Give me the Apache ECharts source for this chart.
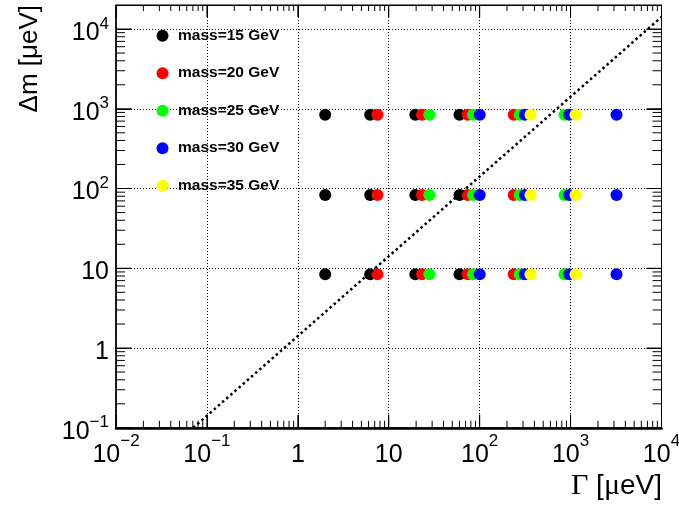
<!DOCTYPE html>
<html>
<head>
<meta charset="utf-8">
<script src="https://cdn.jsdelivr.net/npm/echarts@6/dist/echarts.min.js"></script>
<style>html,body{margin:0;padding:0;background:#fff;}#c{width:679px;height:505px;}</style>
</head>
<body>
<div id="c"></div>
<script>
// ---- data ----
const seriesNames = ['mass=15 GeV', 'mass=20 GeV', 'mass=25 GeV', 'mass=30 GeV', 'mass=35 GeV'];
const seriesColors = ['#000000', '#ff0000', '#00ff00', '#0000ff', '#ffff00'];
const deltaM = [8.4, 83, 840];            // Δm rows [μeV]
const gamma15 = [2.0, 6.25, 19.6, 60];    // Γ [μeV]
const gamma20 = [7.5, 23.2, 73.8, 237];
const gamma25 = [27.9, 84.6, 276, 857];
const gamma30 = [100, 313, 966, 3200];
const gamma35 = [362, 1132];
const gammaSets = [gamma15, gamma20, gamma25, gamma30, gamma35];
const diagGamma = [0.0707, 10000];        // dotted line Γ
const diagDeltaM = [0.1, 14142];          // dotted line Δm
const xRange = [0.01, 10000];
const yRange = [0.1, 20000];
const xMajor = [0.01, 0.1, 1, 10, 100, 1000, 10000];
const yMajor = [0.1, 1, 10, 100, 1000, 10000];

function pts(gs) {
  const out = [];
  deltaM.forEach(function (dm) { gs.forEach(function (g) { out.push([g, dm]); }); });
  return out;
}
function minorTicks(lo, hi) {
  const out = [];
  for (let k = Math.floor(Math.log10(lo)); k <= Math.ceil(Math.log10(hi)); k++) {
    for (let m = 2; m <= 9; m++) {
      const v = m * Math.pow(10, k);
      if (v > lo * 1.0001 && v < hi * 0.9999) out.push(v);
    }
  }
  return out;
}
const xMinor = minorTicks(xRange[0], xRange[1]);
const yMinor = minorTicks(yRange[0], yRange[1]);

function powLabel(v) {
  const l = Math.log10(v);
  const e = Math.round(l);
  if (Math.abs(l - e) > 1e-6) return '';
  if (e === 0) return '{b|1}';
  if (e === 1) return '{b|10}';
  return '{b|10}{s|' + (e < 0 ? '\u2212' : '') + Math.abs(e) + '}';
}
const FONT = 'Liberation Sans';
const rich = {
  b: { fontSize: 25, lineHeight: 43, fontFamily: FONT, color: '#000' },
  s: { fontSize: 17, lineHeight: 17, verticalAlign: 'top', fontFamily: FONT, color: '#000' }
};
const richY = {
  b: { fontSize: 25, lineHeight: 43, fontFamily: FONT, color: '#000', padding: [8, 0, 0, 0] },
  s: { fontSize: 17, lineHeight: 17, verticalAlign: 'top', fontFamily: FONT, color: '#000', padding: [8, 0, 0, 0] }
};

const chart = echarts.init(document.getElementById('c'), null, { renderer: 'canvas' });

const series = [];
gammaSets.forEach(function (gs, i) {
  series.push({
    name: seriesNames[i], type: 'scatter', symbol: 'circle', symbolSize: 12,
    itemStyle: { color: seriesColors[i], opacity: 1 },
    data: pts(gs), z: 3 + i
  });
});
series.push({
  name: 'diag', type: 'line', showSymbol: false, symbol: 'none',
  data: diagGamma.map(function (g, i) { return [g, diagDeltaM[i]]; }),
  lineStyle: { color: '#000', width: 2.5, type: [2.5, 3], cap: 'butt' },
  clip: true, z: 10, silent: true
});

// frame tick marks drawn as thin rect symbols placed through the log scales
function tickSeries(name, values, side, len) {
  const isX = side === 'bottom' || side === 'top';
  let data, size, offset;
  if (side === 'bottom') { data = values.map(function (v) { return [v, yRange[0]]; }); size = [1, len]; offset = [0, -len / 2]; }
  else if (side === 'top') { data = values.map(function (v) { return [v, yRange[1]]; }); size = [1, len]; offset = [0, len / 2]; }
  else if (side === 'left') { data = values.map(function (v) { return [xRange[0], v]; }); size = [len, 1]; offset = [len / 2, 0]; }
  else { data = values.map(function (v) { return [xRange[1], v]; }); size = [len, 1]; offset = [-len / 2, 0]; }
  return {
    name: name, type: 'scatter', symbol: 'rect', symbolSize: size, symbolOffset: offset,
    itemStyle: { color: '#000', opacity: 1 }, data: data, clip: false, silent: true, z: 20
  };
}
series.push(tickSeries('minB', xMinor, 'bottom', 7));
series.push(tickSeries('minT', xMinor, 'top', 6));
series.push(tickSeries('minL', yMinor, 'left', 9));
series.push(tickSeries('minR', yMinor, 'right', 9));
series.push(tickSeries('majB', xMajor, 'bottom', 13));
series.push(tickSeries('majT', xMajor, 'top', 12));
series.push(tickSeries('majL', yMajor, 'left', 16));
series.push(tickSeries('majR', yMajor, 'right', 15));

const split = { show: true, lineStyle: { color: '#000', width: 1, type: [1, 2] } };

chart.setOption({
  animation: false,
  grid: { left: 116, top: 5, width: 545.5, height: 422.8, containLabel: false, outerBoundsMode: 'none',
          show: true, borderColor: '#000', borderWidth: 1, backgroundColor: 'transparent' },
  legend: {
    data: seriesNames, orient: 'vertical', left: 156.5, top: 27.7, padding: 0,
    itemGap: 21.5, itemWidth: 21, itemHeight: 12, icon: 'circle',
    textStyle: { fontFamily: FONT, fontWeight: 'bold', fontSize: 15.5, lineHeight: 16, color: '#000' },
    selectedMode: false
  },
  xAxis: [
    { type: 'log', logBase: 10, min: xRange[0], max: xRange[1], position: 'bottom',
      axisLine: { show: true, onZero: false, lineStyle: { color: '#000', width: 2.5 } },
      axisTick: { show: true, inside: true, length: 13, lineStyle: { color: '#000', width: 1 } },
      axisLabel: { show: true, margin: 5.5, formatter: powLabel, rich: rich, showMinLabel: true, showMaxLabel: true },
      splitLine: split },
    { type: 'log', logBase: 10, min: xRange[0], max: xRange[1], position: 'top',
      axisLine: { show: true, onZero: false, lineStyle: { color: '#000', width: 1 } },
      axisTick: { show: true, inside: true, length: 12, lineStyle: { color: '#000', width: 1 } },
      axisLabel: { show: false }, splitLine: { show: false } }
  ],
  yAxis: [
    { type: 'log', logBase: 10, min: yRange[0], max: yRange[1], position: 'left',
      axisLine: { show: true, onZero: false, lineStyle: { color: '#000', width: 1.5 } },
      axisTick: { show: true, inside: true, length: 16, lineStyle: { color: '#000', width: 1 } },
      axisLabel: { show: true, margin: 7, formatter: powLabel, rich: richY, showMaxLabel: false },
      splitLine: split },
    { type: 'log', logBase: 10, min: yRange[0], max: yRange[1], position: 'right',
      axisLine: { show: true, onZero: false, lineStyle: { color: '#000', width: 1 } },
      axisTick: { show: true, inside: true, length: 15, lineStyle: { color: '#000', width: 1 } },
      axisLabel: { show: false }, splitLine: { show: false } }
  ],
  graphic: [
    { type: 'text', x: 662, y: 486, silent: true,
      style: { text: '{g|\u0393} [{g|\u03bc}eV]', font: '28px "Liberation Sans"', fill: '#000',
               align: 'right', verticalAlign: 'middle',
               rich: { g: { fontFamily: 'Liberation Serif', fontSize: 30 } } } },
    { type: 'text', x: 30, y: 5, rotation: Math.PI / 2, silent: true,
      style: { text: '\u0394m [\u03bceV]', font: '26px "Liberation Sans"', fill: '#000',
               align: 'right', verticalAlign: 'middle' } }
  ],
  series: series
});
</script>
</body>
</html>
